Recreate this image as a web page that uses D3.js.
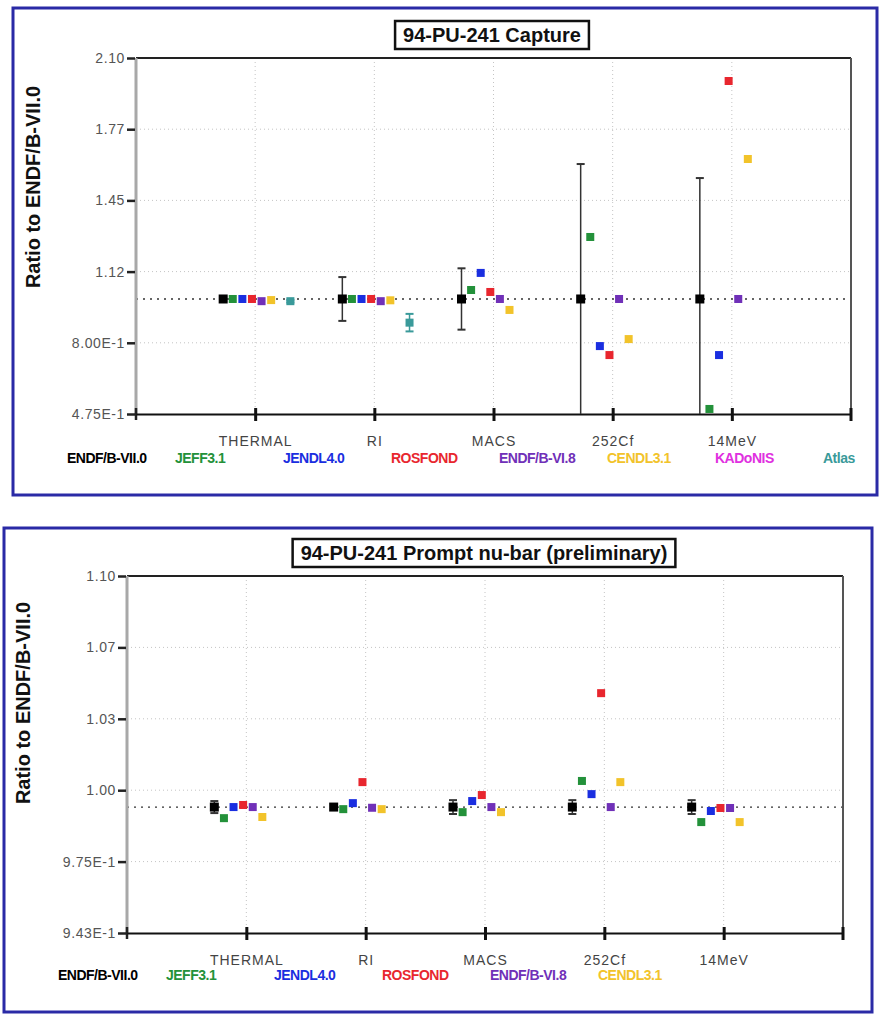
<!DOCTYPE html>
<html>
<head>
<meta charset="utf-8">
<script src="https://cdn.jsdelivr.net/npm/d3@7"></script>
<style>
    body { margin: 0; background: #fff; }
    svg { display: block; font-family: Arial, "Liberation Sans", sans-serif; }
</style>
</head>
<body>
<div id="chart"></div>
<script>
// Categories shared by both panels
const categories = ["THERMAL", "RI", "MACS", "252Cf", "14MeV"];

// Libraries (legend order) and colours
const libraries = ["ENDF/B-VII.0", "JEFF3.1", "JENDL4.0", "ROSFOND", "ENDF/B-VI.8", "CENDL3.1", "KADoNIS", "Atlas"];
const libColors = ["#000000", "#23913a", "#1a2ee0", "#e8262e", "#7030b8", "#f2c32a", "#e030e0", "#3a9a9a"];

// Panel 1: 94-PU-241 capture, ratio to ENDF/B-VII.0
const capYDomain = [0.475, 2.10];
const capTickLabels = ["4.75E-1", "8.00E-1", "1.12", "1.45", "1.77", "2.10"];
const capEndf70 = [1.0, 1.0, 1.0, 1.0, 1.0];
const capEndf70Err = [0.01, 0.10, 0.14, 0.616, 0.552];
const capJeff31 = [1.0, 1.0, 1.041, 1.283, 0.498];
const capJendl40 = [1.0, 1.0, 1.119, 0.785, 0.744];
const capRosfond = [1.0, 1.0, 1.032, 0.744, 1.995];
const capEndf68 = [0.99, 0.99, 1.0, 1.0, 1.0];
const capCendl31 = [0.995, 0.994, 0.95, 0.817, 1.639];
const capKadonis = [null, null, null, null, null];
const capAtlas = [0.99, 0.892, null, null, null];
const capAtlasErr = [0.006, 0.04, null, null, null];

// Panel 2: 94-PU-241 prompt nu-bar, ratio to ENDF/B-VII.0
const nuYDomain = [0.9455, 1.10];
const nuTickLabels = ["9.43E-1", "9.75E-1", "1.00", "1.03", "1.07", "1.10"];
const nuEndf70 = [1.0, 1.0, 1.0, 1.0, 1.0];
const nuEndf70Err = [0.0026, 0.0, 0.003, 0.003, 0.003];
const nuJeff31 = [0.9952, 0.9991, 0.9978, 1.0113, 0.9935];
const nuJendl40 = [1.0, 1.0017, 1.0026, 1.0056, 0.9983];
const nuRosfond = [1.0009, 1.0108, 1.0052, 1.0493, 0.9996];
const nuEndf68 = [1.0, 0.9997, 1.0, 1.0, 0.9996];
const nuCendl31 = [0.9957, 0.9991, 0.9978, 1.0108, 0.9935];

const W = 880, H = 1015;
const svg = d3.select("#chart").append("svg")
    .attr("width", W)
    .attr("height", H);

function drawPanel(cfg) {
    const g = svg.append("g");

    // outer blue frame
    g.append("rect")
        .attr("x", cfg.frame.x).attr("y", cfg.frame.y)
        .attr("width", cfg.frame.w).attr("height", cfg.frame.h)
        .attr("fill", "#fff")
        .attr("stroke", "#2a2aa6")
        .attr("stroke-width", 3);

    const p = cfg.plot;
    const x = d3.scalePoint().domain(categories).range([p.left, p.right]).padding(1);
    const y = d3.scaleLinear().domain(cfg.yDomain).range([p.bottom, p.top]);
    const step = (cfg.yDomain[1] - cfg.yDomain[0]) / 5;
    const yTicks = d3.range(6).map(i => cfg.yDomain[0] + i * step);

    // grid
    g.append("g").selectAll("line")
        .data(yTicks.slice(1, 5))
        .join("line")
        .attr("x1", p.left).attr("x2", p.right)
        .attr("y1", d => y(d)).attr("y2", d => y(d))
        .attr("stroke", "#c4c4c4")
        .attr("stroke-dasharray", "1,3");
    g.append("g").selectAll("line")
        .data(categories)
        .join("line")
        .attr("x1", d => x(d)).attr("x2", d => x(d))
        .attr("y1", p.top).attr("y2", p.bottom)
        .attr("stroke", "#c4c4c4")
        .attr("stroke-dasharray", "1,3");

    // reference line at 1.0
    g.append("line")
        .attr("x1", p.left).attr("x2", p.right)
        .attr("y1", y(1)).attr("y2", y(1))
        .attr("stroke", "#333")
        .attr("stroke-width", 1.3)
        .attr("stroke-dasharray", "2,5");

    // plot borders
    g.append("line")
        .attr("x1", p.left).attr("x2", p.right)
        .attr("y1", p.top).attr("y2", p.top)
        .attr("stroke", "#222").attr("stroke-width", 2);
    g.append("line")
        .attr("x1", p.right).attr("x2", p.right)
        .attr("y1", p.top).attr("y2", p.bottom)
        .attr("stroke", "#555").attr("stroke-width", 2);
    g.append("line")
        .attr("x1", p.left).attr("x2", p.left)
        .attr("y1", p.top).attr("y2", p.bottom)
        .attr("stroke", "#a8a8a8").attr("stroke-width", 3);

    // y axis
    const yAxis = g.append("g")
        .attr("transform", `translate(${p.left - 1},0)`)
        .call(d3.axisLeft(y)
            .tickValues(yTicks)
            .tickFormat((d, i) => cfg.tickLabels[i])
            .tickSize(8)
            .tickPadding(2));
    yAxis.select(".domain").remove();
    yAxis.selectAll(".tick line").attr("stroke", "#222").attr("stroke-width", 2.5);
    yAxis.selectAll(".tick text")
        .attr("fill", "#555")
        .style("font-size", "14px")
        .style("letter-spacing", "0.6px")
        .style("font-family", "Arial, sans-serif");
    // little cross at the origin
    g.append("line")
        .attr("x1", p.left).attr("x2", p.left)
        .attr("y1", p.bottom - 6).attr("y2", p.bottom + 6)
        .attr("stroke", "#222").attr("stroke-width", 2.5);

    // x axis
    const xAxis = g.append("g")
        .attr("transform", `translate(0,${p.bottom})`)
        .call(d3.axisBottom(x).tickSize(6).tickSizeOuter(0).tickPadding(16));
    xAxis.select(".domain")
        .attr("stroke", "#111").attr("stroke-width", 2);
    xAxis.selectAll(".tick line")
        .attr("y1", -6).attr("y2", 7)
        .attr("stroke", "#111").attr("stroke-width", 3);
    xAxis.selectAll(".tick text")
        .attr("fill", "#444")
        .style("font-size", "14px")
        .style("letter-spacing", "1px")
        .style("font-family", "Arial, sans-serif");
    g.append("line")
        .attr("x1", p.right).attr("x2", p.right)
        .attr("y1", p.bottom - 6).attr("y2", p.bottom + 7)
        .attr("stroke", "#111").attr("stroke-width", 3);

    // clip for error bars
    const clipId = cfg.id + "-clip";
    g.append("clipPath").attr("id", clipId)
        .append("rect")
        .attr("x", p.left).attr("y", p.top)
        .attr("width", p.right - p.left).attr("height", p.bottom - p.top);
    const marks = g.append("g").attr("clip-path", `url(#${clipId})`);

    // series offset within each category
    const offset = i => -32 + i * 9.6;

    cfg.series.forEach((s, i) => {
        const pts = categories.map((c, j) => ({
            cat: c,
            v: s.values[j],
            e: s.errors ? s.errors[j] : null
        })).filter(d => d.v != null);

        const sg = marks.append("g");
        const cx = d => x(d.cat) + offset(i);
        const barColor = s.color === "#000000" ? "#333" : s.color;

        sg.selectAll("g.err")
            .data(pts.filter(d => d.e))
            .join("g")
            .attr("class", "err")
            .each(function(d) {
                const eg = d3.select(this);
                const y0 = y(d.v - d.e), y1 = y(d.v + d.e);
                eg.append("line")
                    .attr("x1", cx(d)).attr("x2", cx(d))
                    .attr("y1", y0).attr("y2", y1)
                    .attr("stroke", barColor)
                    .attr("stroke-width", 1.5);
                [y0, y1].forEach(yy => {
                    eg.append("line")
                        .attr("x1", cx(d) - 4).attr("x2", cx(d) + 4)
                        .attr("y1", yy).attr("y2", yy)
                        .attr("stroke", barColor)
                        .attr("stroke-width", 2);
                });
            });

        const size = i === 0 ? 9 : 8;
        sg.selectAll("rect")
            .data(pts)
            .join("rect")
            .attr("x", d => cx(d) - size / 2)
            .attr("y", d => y(d.v) - size / 2)
            .attr("width", size)
            .attr("height", size)
            .attr("fill", s.color);
    });

    // title box
    const tg = g.append("g");
    const title = tg.append("text")
        .attr("x", cfg.titleX)
        .attr("y", cfg.titleY)
        .attr("text-anchor", "middle")
        .style("font-size", "20px")
        .style("font-weight", "bold")
        .attr("fill", "#111")
        .text(cfg.title);
    const bb = title.node().getBBox();
    tg.insert("rect", "text")
        .attr("x", bb.x - 8).attr("y", bb.y - 3)
        .attr("width", bb.width + 16).attr("height", bb.height + 6)
        .attr("fill", "#fff")
        .attr("stroke", "#111")
        .attr("stroke-width", 2.5);

    // y label
    g.append("text")
        .attr("transform", `translate(${cfg.yLabelX},${cfg.yLabelY}) rotate(-90)`)
        .attr("text-anchor", "middle")
        .style("font-size", "20px")
        .style("font-weight", "bold")
        .attr("fill", "#111")
        .text("Ratio to ENDF/B-VII.0");

    // legend
    g.append("g").selectAll("text")
        .data(cfg.series)
        .join("text")
        .attr("x", (d, i) => cfg.legendX + i * 108)
        .attr("y", cfg.legendY)
        .style("font-size", "14px")
        .style("font-weight", "bold")
        .style("letter-spacing", "-0.5px")
        .attr("fill", d => d.color)
        .text(d => d.name);
}

drawPanel({
    id: "capture",
    frame: { x: 13, y: 8, w: 864, h: 487 },
    plot: { left: 136, top: 58, right: 851, bottom: 414 },
    yDomain: capYDomain,
    tickLabels: capTickLabels,
    title: "94-PU-241 Capture",
    titleX: 492, titleY: 42,
    yLabelX: 40, yLabelY: 187,
    legendX: 67, legendY: 463,
    series: [
        { name: libraries[0], color: libColors[0], values: capEndf70, errors: capEndf70Err },
        { name: libraries[1], color: libColors[1], values: capJeff31 },
        { name: libraries[2], color: libColors[2], values: capJendl40 },
        { name: libraries[3], color: libColors[3], values: capRosfond },
        { name: libraries[4], color: libColors[4], values: capEndf68 },
        { name: libraries[5], color: libColors[5], values: capCendl31 },
        { name: libraries[6], color: libColors[6], values: capKadonis },
        { name: libraries[7], color: libColors[7], values: capAtlas, errors: capAtlasErr }
    ]
});

drawPanel({
    id: "nubar",
    frame: { x: 4, y: 528, w: 868, h: 484 },
    plot: { left: 127, top: 576, right: 843, bottom: 933 },
    yDomain: nuYDomain,
    tickLabels: nuTickLabels,
    title: "94-PU-241 Prompt nu-bar (preliminary)",
    titleX: 484, titleY: 560,
    yLabelX: 30, yLabelY: 703,
    legendX: 58, legendY: 980,
    series: [
        { name: libraries[0], color: libColors[0], values: nuEndf70, errors: nuEndf70Err },
        { name: libraries[1], color: libColors[1], values: nuJeff31 },
        { name: libraries[2], color: libColors[2], values: nuJendl40 },
        { name: libraries[3], color: libColors[3], values: nuRosfond },
        { name: libraries[4], color: libColors[4], values: nuEndf68 },
        { name: libraries[5], color: libColors[5], values: nuCendl31 }
    ]
});
</script>
</body>
</html>
